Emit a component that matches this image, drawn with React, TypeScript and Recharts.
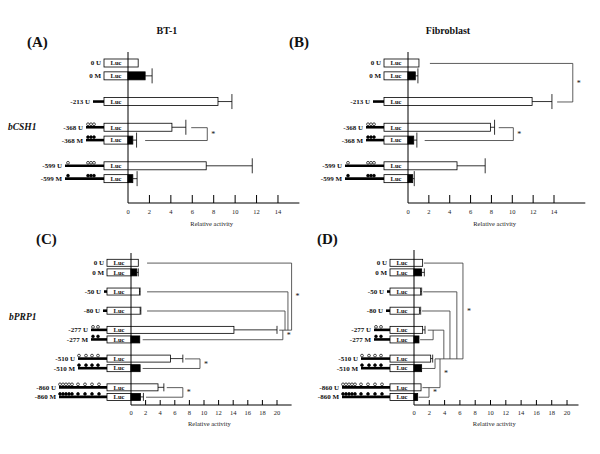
import React from "react";
import { BarChart, Bar, XAxis, YAxis, ReferenceLine } from "recharts";

// rows of the two promoter families; "" = spacer between construct groups
const CSH_ROWS = ["0 U", "0 M", "", "-213 U", "", "-368 U", "-368 M", "", "-599 U", "-599 M"];
const PRP_ROWS = ["0 U", "0 M", "", "-50 U", "", "-80 U", "", "-277 U", "-277 M", "", "-510 U", "-510 M", "", "-860 U", "-860 M"];

const TICKS_CSH = [0, 2, 4, 6, 8, 10, 12, 14];
const TICKS_PRP = [0, 2, 4, 6, 8, 10, 12, 14, 16, 18, 20];

// (A) BT-1, bCSH1
const A_VALUES = [0.95, 1.6, null, 8.4, null, 4.1, 0.45, null, 7.3, 0.45];
const A_ERRORS = [0, 0.65, null, 1.3, null, 1.3, 0.35, null, 4.3, 0.4];
// (B) Fibroblast, bCSH1
const B_VALUES = [1.05, 0.7, null, 11.9, null, 7.9, 0.55, null, 4.7, 0.45];
const B_ERRORS = [0, 0.25, null, 1.9, null, 0.4, 0.3, null, 2.7, 0.15];
// (C) BT-1, bPRP1
const C_VALUES = [1.0, 0.8, null, 1.15, null, 1.25, null, 14.1, 1.2, null, 5.4, 1.25, null, 3.7, 1.3];
const C_ERRORS = [0, 0.2, null, 0.1, null, 0.1, null, 5.9, 0, null, 1.7, 0, null, 0.8, 0.4];
// (D) Fibroblast, bPRP1
const D_VALUES = [1.13, 1.0, null, 0.87, null, 0.7, null, 1.13, 0.65, null, 2.18, 1.0, null, 0.92, 0.48];
const D_ERRORS = [0, 0.35, null, 0.13, null, 0.17, null, 0.31, 0, null, 0.26, 0, null, 0, 0];

// significance brackets: horizontal arms (row, from, to) and vertical joins
const A_LINKS = [
  { row: "-368 U", from: 5.9, to: 7.4 },
  { row: "-368 M", from: 1.6, to: 7.4 },
];
const A_JOINS = [{ x: 7.4, top: "-368 U", bottom: "-368 M", star: true }];

const B_LINKS = [
  { row: "0 U", from: 2.1, to: 15.8 },
  { row: "-213 U", from: 14.3, to: 15.8 },
  { row: "-368 U", from: 8.7, to: 10.1 },
  { row: "-368 M", from: 1.6, to: 10.1 },
];
const B_JOINS = [
  { x: 15.8, top: "0 U", bottom: "-213 U", star: true },
  { x: 10.1, top: "-368 U", bottom: "-368 M", star: true },
];

const C_LINKS = [
  { row: "0 U", from: 2.2, to: 22 },
  { row: "-50 U", from: 2.2, to: 21.5 },
  { row: "-80 U", from: 2.2, to: 21.1 },
  { row: "-277 U", from: 20.3, to: 22 },
  { row: "-277 M", from: 1.6, to: 20.8 },
  { row: "-510 U", from: 7.4, to: 9.45 },
  { row: "-510 M", from: 1.6, to: 9.45 },
  { row: "-860 U", from: 4.9, to: 7.1 },
  { row: "-860 M", from: 2.05, to: 7.1 },
];
const C_JOINS = [
  { x: 22, top: "0 U", bottom: "-277 U", star: true },
  { x: 21.5, top: "-50 U", bottom: "-277 U" },
  { x: 21.1, top: "-80 U", bottom: "-277 U" },
  { x: 20.8, top: "-277 U", bottom: "-277 M", star: true },
  { x: 9.45, top: "-510 U", bottom: "-510 M", star: true },
  { x: 7.1, top: "-860 U", bottom: "-860 M", star: true },
];

const D_LINKS = [
  { row: "0 U", from: 1.3, to: 6.4 },
  { row: "-50 U", from: 1.2, to: 5.6 },
  { row: "-80 U", from: 1.05, to: 4.7 },
  { row: "-277 U", from: 1.8, to: 3.9 },
  { row: "-277 M", from: 0.8, to: 2.5 },
  { row: "-510 U", from: 2.75, to: 6.4 },
  { row: "-510 M", from: 1.05, to: 2.75 },
  { row: "-860 U", from: 1.1, to: 3.4 },
  { row: "-860 M", from: 0.6, to: 1.96 },
];
const D_JOINS = [
  { x: 6.4, top: "0 U", bottom: "-510 U", star: true },
  { x: 5.6, top: "-50 U", bottom: "-510 U" },
  { x: 4.7, top: "-80 U", bottom: "-510 U" },
  { x: 3.9, top: "-277 U", bottom: "-510 U" },
  { x: 2.5, top: "-277 U", bottom: "-277 M" },
  { x: 2.75, top: "-510 U", bottom: "-510 M" },
  { x: 3.4, top: "-510 U", bottom: "-860 U", star: true },
  { x: 1.96, top: "-860 U", bottom: "-860 M", star: true },
];

// drawing of the promoter fragments (px): line length, CpG site offsets from the Luc box
const LUC_W = 24;
const PROMOTERS: Record<string, { len: number; sites: number[] }> = {
  "-213": { len: 11, sites: [] },
  "-368": { len: 18, sites: [16, 13, 10] },
  "-599": { len: 39, sites: [36, 16, 13, 10] },
  "-50": { len: 3, sites: [] },
  "-80": { len: 4, sites: [] },
  "-277": { len: 16, sites: [14, 9] },
  "-510": { len: 29, sites: [28, 21, 15, 9] },
  "-860": { len: 48, sites: [47, 44, 41, 38, 35, 29, 22, 15, 8] },
};

function makeBarShape(cap: number) {
  return (props: any) => {
    const { x, y, width, height, payload } = props;
    if (!payload || payload.value == null || !payload.label) return null;
    const cy = y + height / 2;
    const isM = payload.label.endsWith("M");
    const prom = PROMOTERS[payload.label.split(" ")[0]];
    const boxX = x - LUC_W;
    const promX = prom ? boxX - prom.len : boxX;
    const perUnit = width / payload.value;
    const errX = x + width + (payload.err || 0) * perUnit;
    return (
      <g>
        {prom && <line x1={promX} x2={boxX} y1={cy} y2={cy} stroke="#000" strokeWidth={2.6} />}
        {prom &&
          prom.sites.map((s, i) => (
            <circle key={i} cx={boxX - s} cy={cy - 3} r={1.4} fill={isM ? "#000" : "#fff"} stroke="#000" strokeWidth={0.7} />
          ))}
        <text x={promX - 3} y={cy + 2.4} textAnchor="end" fontSize={7} fontWeight="bold" fill="#111">
          {payload.label}
        </text>
        {isM ? (
          <>
            <rect x={boxX} y={y} width={LUC_W} height={height} fill="#fff" stroke="#000" strokeWidth={0.8} />
            <rect x={x} y={y} width={width} height={height} fill="#000" stroke="#000" strokeWidth={0.8} />
          </>
        ) : (
          <rect x={boxX} y={y} width={LUC_W + width} height={height} fill="#fff" stroke="#000" strokeWidth={0.8} />
        )}
        <text x={boxX + LUC_W / 2} y={cy + 2.3} textAnchor="middle" fontSize={6.5} fontWeight="bold" fill="#111">
          Luc
        </text>
        {payload.err > 0 && (
          <>
            <line x1={x + width} x2={errX} y1={cy} y2={cy} stroke="#000" strokeWidth={0.8} />
            <line x1={errX} x2={errX} y1={cy - cap / 2} y2={cy + cap / 2} stroke="#000" strokeWidth={0.8} />
          </>
        )}
      </g>
    );
  };
}

function Panel(p: any) {
  const data = p.rows.map((label: string, i: number) => ({
    id: label || `gap${i}`,
    label,
    value: p.values[i],
    err: p.errors[i],
  }));
  const tick = ({ x, y, payload }: any) => (
    <g>
      {payload.value !== 0 && <line x1={x} x2={x} y1={y} y2={y - p.tickLen} stroke="#000" strokeWidth={1} />}
      <text x={x} y={y + p.tickDy} textAnchor="middle" fontSize={6.5} fill="#222">
        {payload.value}
      </text>
    </g>
  );
  const axisTitle = (lp: any) => {
    const vb = lp && lp.viewBox ? lp.viewBox : { x: 0, y: 0, width: 0 };
    return (
      <text x={vb.x + vb.width / 2 - 2} y={vb.y + p.titleDy} textAnchor="middle" fontSize={6.5} fill="#222">
        Relative activity
      </text>
    );
  };
  return (
    <div style={{ position: "absolute", left: p.left, top: p.top }}>
      <BarChart width={p.width} height={p.height} data={data} layout="vertical" margin={p.margin}>
        <XAxis
          type="number"
          domain={p.domain}
          ticks={p.ticks}
          interval={0}
          tickSize={0}
          tickMargin={0}
          tickLine={false}
          tick={tick}
          axisLine={{ stroke: "#000", strokeWidth: 1 }}
          height={28}
          label={axisTitle}
        />
        <YAxis
          type="category"
          dataKey="id"
          width={1}
          tick={false}
          tickLine={false}
          axisLine={{ stroke: "#000", strokeWidth: 1 }}
          padding={p.pad}
        />
        <Bar dataKey="value" barSize={p.barSize} shape={makeBarShape(p.cap)} isAnimationActive={false} />
        {p.links.map((l: any, i: number) => (
          <ReferenceLine
            key={`l${i}`}
            segment={[{ x: l.from, y: l.row }, { x: l.to, y: l.row }]}
            stroke="#333"
            strokeWidth={0.8}
            ifOverflow="visible"
          />
        ))}
        {p.joins.map((j: any, i: number) => (
          <ReferenceLine
            key={`j${i}`}
            segment={[{ x: j.x, y: j.top }, { x: j.x, y: j.bottom }]}
            stroke="#333"
            strokeWidth={0.8}
            ifOverflow="visible"
            label={j.star ? { value: "*", position: "right", offset: 4, fontSize: 8, fill: "#111" } : undefined}
          />
        ))}
      </BarChart>
    </div>
  );
}

export default function App() {
  return (
    <div
      style={{
        position: "absolute",
        left: 0,
        top: 0,
        width: 600,
        height: 454,
        background: "#fff",
        fontFamily: "'Liberation Serif', 'DejaVu Serif', serif",
        overflow: "hidden",
      }}
    >
      <Panel
        left={0} top={0} width={302} height={231}
        margin={{ top: 52, left: 127, right: 2.6, bottom: 0 }}
        rows={CSH_ROWS} values={A_VALUES} errors={A_ERRORS}
        domain={[0, 16]} ticks={TICKS_CSH} pad={{ top: 5, bottom: 17.5 }}
        barSize={8} cap={15} tickLen={8} tickDy={11.3} titleDy={22.5}
        links={A_LINKS} joins={A_JOINS}
      />
      <Panel
        left={300} top={0} width={300} height={231}
        margin={{ top: 52, left: 107, right: 14.7, bottom: 0 }}
        rows={CSH_ROWS} values={B_VALUES} errors={B_ERRORS}
        domain={[0, 17]} ticks={TICKS_CSH} pad={{ top: 5, bottom: 17.5 }}
        barSize={8} cap={15} tickLen={8} tickDy={11.3} titleDy={22.5}
        links={B_LINKS} joins={B_JOINS}
      />
      <Panel
        left={0} top={230} width={300} height={203}
        margin={{ top: 23, left: 130, right: 8.4, bottom: 0 }}
        rows={PRP_ROWS} values={C_VALUES} errors={C_ERRORS}
        domain={[0, 22]} ticks={TICKS_PRP} pad={{ top: 5.3, bottom: 3 }}
        barSize={7} cap={8} tickLen={5} tickDy={9.5} titleDy={20.5}
        links={C_LINKS} joins={C_JOINS}
      />
      <Panel
        left={300} top={230} width={300} height={203}
        margin={{ top: 20, left: 113, right: 21.5, bottom: 0 }}
        rows={PRP_ROWS} values={D_VALUES} errors={D_ERRORS}
        domain={[0, 21.5]} ticks={TICKS_PRP} pad={{ top: 8.3, bottom: 3 }}
        barSize={7} cap={8} tickLen={5} tickDy={9.5} titleDy={20.5}
        links={D_LINKS} joins={D_JOINS}
      />
      <svg width={600} height={454} style={{ position: "absolute", left: 0, top: 0, pointerEvents: "none" }}>
        <g fontWeight="bold" fill="#111" dominantBaseline="central">
          <text x={167} y={30} fontSize={10} textAnchor="middle">BT-1</text>
          <text x={448} y={30} fontSize={10} textAnchor="middle">Fibroblast</text>
          <text x={27} y={42} fontSize={15}>(A)</text>
          <text x={289} y={42} fontSize={15}>(B)</text>
          <text x={36} y={239} fontSize={15}>(C)</text>
          <text x={317} y={239} fontSize={15}>(D)</text>
          <text x={8} y={127} fontSize={9.5} fontStyle="italic">bCSH1</text>
          <text x={9} y={317} fontSize={9.5} fontStyle="italic">bPRP1</text>
        </g>
      </svg>
    </div>
  );
}
